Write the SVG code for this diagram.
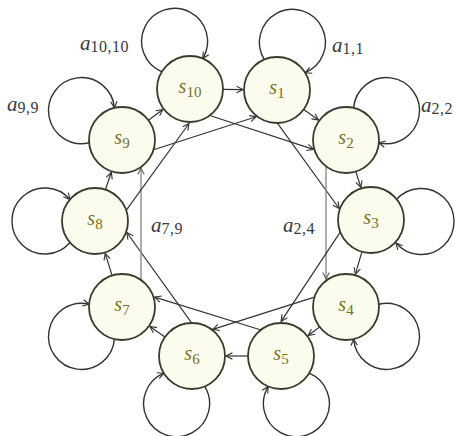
<svg xmlns="http://www.w3.org/2000/svg" width="455" height="436" viewBox="0 0 455 436">
  <style>
    .node circle { fill: #fbfbee; stroke: #3b3b2c; stroke-width: 1.8; }
    .nlab { font-family: "Liberation Serif", "DejaVu Serif", serif; font-size: 20px; fill: #77701c; text-anchor: middle; }
    .nlab .sub { font-size: 15px; font-style: normal; }
    .elab { font-family: "Liberation Serif", "DejaVu Serif", serif; font-size: 21px; fill: #3a3a3a; }
    .elab .sub { font-size: 16px; font-style: normal; letter-spacing: 0.5px; }
    .it { font-style: italic; }
    .edge { fill: none; stroke: #333; stroke-width: 1.2; marker-end: url(#arr); }
    .loop { fill: none; stroke: #333; stroke-width: 1.4; marker-end: url(#arr); }
    .vert { fill: none; stroke: #8c8c8c; stroke-width: 1.4; marker-end: url(#arrg); }
  </style>
  <defs>
    <marker id="arr" viewBox="0 0 10 10" refX="9" refY="5" markerWidth="8" markerHeight="8" markerUnits="userSpaceOnUse" orient="auto">
      <path d="M1,1 L9,5 L1,9" fill="none" stroke="#333" stroke-width="1.4"/>
    </marker>
    <marker id="arrg" viewBox="0 0 10 10" refX="9" refY="5" markerWidth="8" markerHeight="8" markerUnits="userSpaceOnUse" orient="auto">
      <path d="M1,1 L9,5 L1,9" fill="none" stroke="#666" stroke-width="1.4"/>
    </marker>
  </defs>

  <!-- connectors: ring, self-loops and skip transitions -->
  <g id="connectors">
    <!-- ring s_i -> s_(i+1) -->
    <line class="edge" x1="223" y1="89.4" x2="243" y2="89.6"/>
    <line class="edge" x1="303.7" y1="109.4" x2="318.5" y2="120"/>
    <line class="edge" x1="355.8" y1="171.5" x2="360.9" y2="187.5"/>
    <line class="edge" x1="361.9" y1="251.7" x2="355.4" y2="274.3"/>
    <line class="edge" x1="319.6" y1="326.9" x2="308.2" y2="335.5"/>
    <line class="edge" x1="248" y1="356" x2="226" y2="356"/>
    <line class="edge" x1="164.9" y1="337.1" x2="149.9" y2="326.5"/>
    <line class="edge" x1="112.1" y1="275.5" x2="105.2" y2="253.4"/>
    <line class="edge" x1="105.4" y1="189.7" x2="111.3" y2="172.3"/>
    <line class="edge" x1="148.4" y1="120.2" x2="162.8" y2="109.4"/>

    <!-- self-loops a_(i,i) -->
    <path class="loop" d="M264.3,59.6 A33,33 0 1 1 305.1,72.8"/>
    <path class="loop" d="M353.6,107.9 A33,33 0 1 1 378.8,142.7"/>
    <path class="loop" d="M396,200 A33,33 0 1 1 396,243"/>
    <path class="loop" d="M378.8,304.3 A33,33 0 1 1 353.6,339.1"/>
    <path class="loop" d="M309.1,373.2 A33,33 0 1 1 268.3,386.4"/>
    <path class="loop" d="M204.7,386.4 A33,33 0 1 1 163.9,373.2"/>
    <path class="loop" d="M114.4,339.1 A33,33 0 1 1 89.2,304.3"/>
    <path class="loop" d="M70,242.5 A33,33 0 1 1 70,199.5"/>
    <path class="loop" d="M89.2,142.7 A33,33 0 1 1 114.4,107.9"/>
    <path class="loop" d="M161.9,71.8 A33,33 0 1 1 202.7,58.6"/>

    <!-- skip transitions s_i -> s_(i+2) -->
    <line class="edge" x1="153.6" y1="149.8" x2="256.2" y2="116.7"/>
    <line class="edge" x1="209.8" y1="115.5" x2="313.5" y2="149.4"/>
    <line class="edge" x1="277.4" y1="123.1" x2="339.2" y2="208.5"/>
    <line class="vert" x1="326" y1="167" x2="326" y2="279"/>
    <line class="edge" x1="340.7" y1="231.3" x2="281.1" y2="321.4"/>
    <line class="edge" x1="314.4" y1="297.1" x2="212.8" y2="329.4"/>
    <line class="edge" x1="261.1" y1="330" x2="154.7" y2="297.1"/>
    <line class="edge" x1="191.6" y1="322.9" x2="126.8" y2="232.5"/>
    <line class="vert" x1="141" y1="280" x2="141" y2="168"/>
    <line class="edge" x1="126.2" y1="210.3" x2="189" y2="123.5"/>
  </g>

  <!-- states -->
  <g id="s1" class="node"><circle cx="277" cy="90" r="33"/><text class="nlab" x="277" y="94"><tspan class="it">s</tspan><tspan class="sub" dy="4">1</tspan></text></g>
  <g id="s2" class="node"><circle cx="346" cy="140" r="33"/><text class="nlab" x="346" y="144"><tspan class="it">s</tspan><tspan class="sub" dy="4">2</tspan></text></g>
  <g id="s3" class="node"><circle cx="371" cy="220" r="33"/><text class="nlab" x="371" y="224"><tspan class="it">s</tspan><tspan class="sub" dy="4">3</tspan></text></g>
  <g id="s4" class="node"><circle cx="346" cy="307" r="33"/><text class="nlab" x="346" y="311"><tspan class="it">s</tspan><tspan class="sub" dy="4">4</tspan></text></g>
  <g id="s5" class="node"><circle cx="281" cy="356" r="33"/><text class="nlab" x="281" y="360"><tspan class="it">s</tspan><tspan class="sub" dy="4">5</tspan></text></g>
  <g id="s6" class="node"><circle cx="192" cy="356" r="33"/><text class="nlab" x="192" y="360"><tspan class="it">s</tspan><tspan class="sub" dy="4">6</tspan></text></g>
  <g id="s7" class="node"><circle cx="122" cy="307" r="33"/><text class="nlab" x="122" y="311"><tspan class="it">s</tspan><tspan class="sub" dy="4">7</tspan></text></g>
  <g id="s8" class="node"><circle cx="95" cy="221" r="33"/><text class="nlab" x="95" y="225"><tspan class="it">s</tspan><tspan class="sub" dy="4">8</tspan></text></g>
  <g id="s9" class="node"><circle cx="122" cy="140" r="33"/><text class="nlab" x="122" y="144"><tspan class="it">s</tspan><tspan class="sub" dy="4">9</tspan></text></g>
  <g id="s10" class="node"><circle cx="190" cy="89" r="33"/><text class="nlab" x="190" y="93"><tspan class="it">s</tspan><tspan class="sub" dy="4">10</tspan></text></g>

  <!-- transition labels -->
  <g id="labels">
    <text class="elab" x="80" y="50"><tspan class="it">a</tspan><tspan class="sub" dy="2">10,10</tspan></text>
    <text class="elab" x="332" y="52"><tspan class="it">a</tspan><tspan class="sub" dy="2">1,1</tspan></text>
    <text class="elab" x="453" y="112" text-anchor="end"><tspan class="it">a</tspan><tspan class="sub" dy="2">2,2</tspan></text>
    <text class="elab" x="39" y="111" text-anchor="end"><tspan class="it">a</tspan><tspan class="sub" dy="2">9,9</tspan></text>
    <text class="elab" x="151" y="232"><tspan class="it">a</tspan><tspan class="sub" dy="2">7,9</tspan></text>
    <text class="elab" x="283" y="232"><tspan class="it">a</tspan><tspan class="sub" dy="2">2,4</tspan></text>
  </g>
</svg>
